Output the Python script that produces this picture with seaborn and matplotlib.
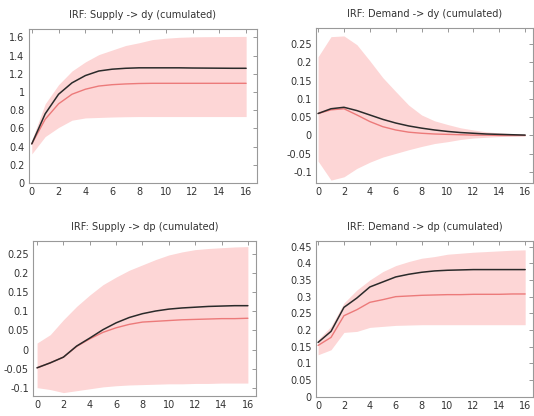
import matplotlib
matplotlib.use("Agg")
import matplotlib.pyplot as plt
import matplotlib.ticker as mticker
import seaborn as sns
import pandas as pd

horizon = list(range(17))

# Supply -> dy
s_dy_point = [0.43, 0.76, 0.975, 1.1, 1.18, 1.23, 1.25, 1.26, 1.265, 1.265, 1.265, 1.265, 1.263, 1.262, 1.261, 1.26, 1.26]
s_dy_median = [0.43, 0.70, 0.87, 0.975, 1.03, 1.065, 1.08, 1.088, 1.093, 1.095, 1.095, 1.095, 1.095, 1.095, 1.095, 1.095, 1.095]
s_dy_upper = [0.47, 0.87, 1.08, 1.23, 1.33, 1.41, 1.46, 1.51, 1.54, 1.575, 1.59, 1.6, 1.605, 1.607, 1.608, 1.609, 1.61]
s_dy_lower = [0.32, 0.51, 0.61, 0.69, 0.715, 0.72, 0.725, 0.728, 0.73, 0.73, 0.73, 0.73, 0.73, 0.73, 0.73, 0.73, 0.73]

# Demand -> dy
d_dy_point = [0.06, 0.073, 0.077, 0.068, 0.056, 0.044, 0.034, 0.026, 0.02, 0.015, 0.011, 0.008, 0.006, 0.004, 0.003, 0.002, 0.001]
d_dy_median = [0.06, 0.07, 0.073, 0.056, 0.038, 0.024, 0.015, 0.009, 0.006, 0.004, 0.003, 0.002, 0.001, 0.001, 0.0, 0.0, 0.0]
d_dy_upper = [0.215, 0.27, 0.272, 0.248, 0.204, 0.158, 0.12, 0.083, 0.056, 0.04, 0.03, 0.021, 0.015, 0.01, 0.007, 0.005, 0.003]
d_dy_lower = [-0.07, -0.122, -0.113, -0.09, -0.073, -0.059, -0.049, -0.039, -0.03, -0.022, -0.017, -0.011, -0.007, -0.005, -0.003, -0.002, -0.001]

# Supply -> dp
s_dp_point = [-0.048, -0.035, -0.02, 0.009, 0.03, 0.052, 0.07, 0.084, 0.094, 0.101, 0.106, 0.109, 0.111, 0.113, 0.114, 0.115, 0.115]
s_dp_median = [-0.048, -0.035, -0.02, 0.008, 0.028, 0.045, 0.057, 0.066, 0.072, 0.074, 0.076, 0.078, 0.079, 0.08, 0.081, 0.081, 0.082]
s_dp_upper = [0.017, 0.039, 0.078, 0.113, 0.143, 0.17, 0.19, 0.208, 0.222, 0.236, 0.248, 0.256, 0.262, 0.265, 0.267, 0.269, 0.27]
s_dp_lower = [-0.1, -0.105, -0.113, -0.108, -0.103, -0.098, -0.095, -0.093, -0.092, -0.091, -0.09, -0.09, -0.089, -0.089, -0.088, -0.088, -0.088]

# Demand -> dp
d_dp_point = [0.163, 0.196, 0.268, 0.296, 0.329, 0.344, 0.359, 0.367, 0.373, 0.377, 0.379, 0.38, 0.381, 0.381, 0.381, 0.381, 0.381]
d_dp_median = [0.154, 0.178, 0.243, 0.261, 0.283, 0.291, 0.3, 0.302, 0.304, 0.305, 0.306, 0.306, 0.307, 0.307, 0.307, 0.308, 0.308]
d_dp_upper = [0.171, 0.211, 0.281, 0.32, 0.35, 0.375, 0.393, 0.405, 0.415, 0.42, 0.427, 0.43, 0.433, 0.435, 0.437, 0.439, 0.44]
d_dp_lower = [0.126, 0.141, 0.193, 0.196, 0.208, 0.211, 0.214, 0.215, 0.216, 0.216, 0.216, 0.216, 0.216, 0.216, 0.216, 0.216, 0.216]

panels = [
    ("IRF: Supply -> dy (cumulated)", s_dy_point, s_dy_median, s_dy_upper, s_dy_lower,
     [0.054, 0.560, 0.427, 0.370], (-0.22, 16.8), (0, 1.69), 0.2),
    ("IRF: Demand -> dy (cumulated)", d_dy_point, d_dy_median, d_dy_upper, d_dy_lower,
     [0.592, 0.560, 0.406, 0.373], (-0.15, 16.6), (-0.13, 0.294), 0.05),
    ("IRF: Supply -> dp (cumulated)", s_dp_point, s_dp_median, s_dp_upper, s_dp_lower,
     [0.062, 0.048, 0.417, 0.373], (-0.3, 16.6), (-0.122, 0.285), 0.05),
    ("IRF: Demand -> dp (cumulated)", d_dp_point, d_dp_median, d_dp_upper, d_dp_lower,
     [0.592, 0.046, 0.406, 0.375], (-0.15, 16.6), (0, 0.467), 0.05),
]

sns.set_style("white")
plt.rcParams["font.family"] = ["DejaVu Sans"]

fig = plt.figure(figsize=(5.34, 4.16), dpi=100)

for title, point, median, upper, lower, rect, xlim, ylim, ystep in panels:
    ax = fig.add_axes(rect)
    df = pd.DataFrame({"h": horizon, "point": point, "median": median,
                       "upper": upper, "lower": lower})
    ax.fill_between(df["h"], df["lower"], df["upper"], color="#fdd6d6", linewidth=0)
    sns.lineplot(data=df, x="h", y="median", ax=ax, color="#ec7a7a", linewidth=1.0)
    sns.lineplot(data=df, x="h", y="point", ax=ax, color="#2a2a2a", linewidth=1.1)
    ax.set_xlim(*xlim)
    ax.set_ylim(*ylim)
    ax.set_xlabel("")
    ax.set_ylabel("")
    ax.xaxis.set_major_locator(mticker.MultipleLocator(2))
    ax.yaxis.set_major_locator(mticker.MultipleLocator(ystep))
    ax.yaxis.set_major_formatter(mticker.FuncFormatter(lambda v, p: "%g" % round(v, 4)))
    ax.tick_params(direction="in", top=True, right=True, length=3, width=0.6,
                   color="#888888", labelsize=7, labelcolor="#333333", pad=3)
    for sp in ax.spines.values():
        sp.set_color("#999999")
        sp.set_linewidth(0.8)
    ax.set_title(title, fontsize=7, color="#333333", pad=8)

fig.savefig("out.png", dpi=100)
